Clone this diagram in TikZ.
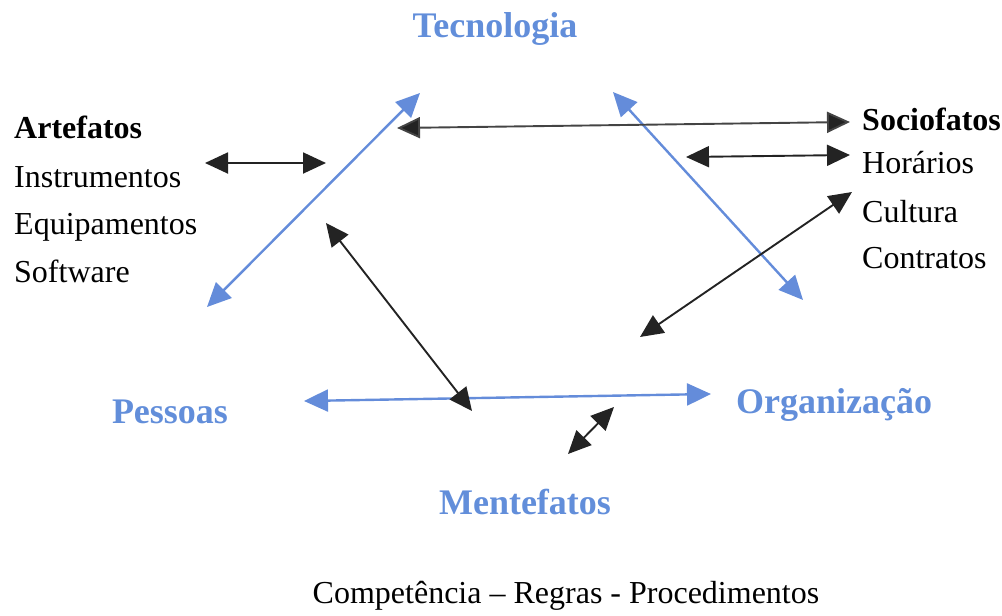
\documentclass[tikz,border=0pt]{standalone}
\usepackage{fontspec}
\setmainfont{Liberation Serif}
\usetikzlibrary{arrows.meta}
\definecolor{lblue}{RGB}{98,142,218}
\definecolor{ablue}{RGB}{100,140,218}
\definecolor{dgrey}{RGB}{35,35,35}
\tikzset{
  bluelabel/.style={anchor=base, text=lblue, font=\fontsize{36}{40}\selectfont\bfseries, inner sep=0pt},
  blktext/.style={anchor=base west, text=black, font=\fontsize{32}{36}\selectfont, inner sep=0pt},
  blkbold/.style={blktext, font=\fontsize{32}{36}\selectfont\bfseries},
  bluearrow/.style={draw=ablue, line width=2.4pt, {Triangle[length=24pt,width=22pt,fill=ablue]}-{Triangle[length=24pt,width=22pt,fill=ablue]}},
  blkarrow/.style={draw=dgrey, line width=1.9pt, {Triangle[length=23pt,width=21pt,fill=dgrey]}-{Triangle[length=23pt,width=21pt,fill=dgrey]}},
}
\begin{document}
\begin{tikzpicture}[x=1pt,y=-1pt]
\useasboundingbox (0,0) rectangle (1002,616);
% labels
\node[bluelabel] (tec) at (495,37) {Tecnologia};
\node[bluelabel] (pes) at (170,423) {Pessoas};
\node[bluelabel] (org) at (834,413) {Organização};
\node[bluelabel] (men) at (525,514) {Mentefatos};
\node[anchor=base, inner sep=0pt, font=\fontsize{32}{36}\selectfont] (comp) at (566,603) {Competência -- Regras - Procedimentos};
\node[blkbold] (art) at (14,138) {Artefatos};
\node[blktext] (ins) at (14,187) {Instrumentos};
\node[blktext] (equ) at (14,234) {Equipamentos};
\node[blktext] (sof) at (14,282) {Software};
\node[blkbold] (soc) at (862,130) {Sociofatos};
\node[blktext] (hor) at (862,173) {Horários};
\node[blktext] (cul) at (862,222) {Cultura};
\node[blktext] (con) at (862,268) {Contratos};
% arrow end points
\coordinate (a1) at (205,163); \coordinate (a2) at (326,163);
\coordinate (b1) at (207,307); \coordinate (b2) at (420,93);
\coordinate (c1) at (397,128); \coordinate (c2) at (850,122);
\coordinate (d1) at (613,92);  \coordinate (d2) at (803,300);
\coordinate (e1) at (686,157); \coordinate (e2) at (850,155);
\coordinate (f1) at (852,192); \coordinate (f2) at (640,337);
\coordinate (g1) at (326,223); \coordinate (g2) at (472,411);
\coordinate (h1) at (304,401); \coordinate (h2) at (711,394);
\coordinate (i1) at (614,407); \coordinate (i2) at (568,454);
% arrows
\draw[bluearrow] (b1) -- (b2);
\draw[bluearrow] (d1) -- (d2);
\draw[bluearrow] (h1) -- (h2);
\draw[blkarrow] (a1) -- (a2);
\draw[blkarrow,draw=dgrey!85] (c1) -- (c2);
\draw[blkarrow] (e1) -- (e2);
\draw[blkarrow] (f1) -- (f2);
\draw[blkarrow] (g1) -- (g2);
\draw[blkarrow] (i1) -- (i2);
\end{tikzpicture}
\end{document}
